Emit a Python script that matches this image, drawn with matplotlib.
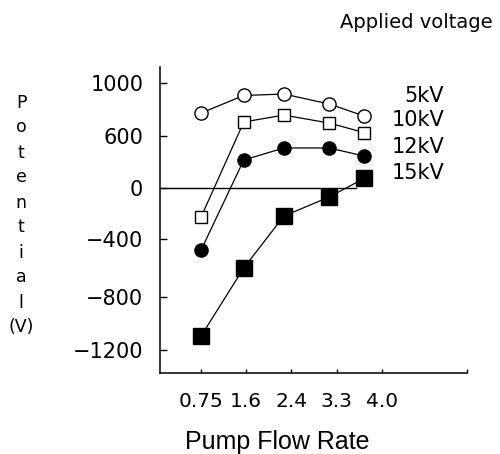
import matplotlib
matplotlib.use("Agg")
import matplotlib.pyplot as plt
from matplotlib.ticker import NullLocator
import numpy as np

# data
flow = [0.75, 1.6, 2.4, 3.3, 4.0]
flow_labels = ["0.75", "1.6", "2.4", "3.3", "4.0"]
v5 = [774, 906, 917, 842, 751]
v10 = [-227, 706, 758, 698, 626]
v12 = [-476, 323, 462, 462, 369]
v15 = [-1094, -600, -220, -71, 110]
series_labels = ["5kV", "10kV", "12kV", "15kV"]
y_ticks = [-1200, -800, -400, 0, 600, 1000]

# the y axis is uneven: tick marks sit about evenly apart, the values don't
scale_vals = [-1600, -1200, -800, -400, 0, 600, 1000, 1400]
scale_pos = [-30, 23, 76, 134, 185, 237, 290, 343]


def fwd(v):
    return np.interp(v, scale_vals, scale_pos)


def inv(p):
    return np.interp(p, scale_pos, scale_vals)


W, H = 500, 454
fig = plt.figure(figsize=(W / 100, H / 100), dpi=100)
ax = fig.add_axes([160 / W, 1 - 373 / H, 307 / W, 306 / H])
ax.set_yscale("function", functions=(fwd, inv))

common = dict(color="k", lw=0.9, mec="k", mew=1.0, clip_on=False, zorder=3)
ax.plot(flow, v5, marker="o", mfc="white", ms=9.5, **common)
ax.plot(flow, v10, marker="s", mfc="white", ms=8.5, **common)
ax.plot(flow, v12, marker="o", mfc="k", ms=9.5, **common)
ax.plot(flow, v15, marker="s", mfc="k", ms=11.5, **common)

ax.set_xlim(-0.07, 6.05)
ax.set_ylim(-1374, 1121)
ax.axhline(0, xmin=0, xmax=0.64, color="k", lw=1.0, zorder=2)

for s in ["top", "right"]:
    ax.spines[s].set_visible(False)
for s in ["left", "bottom"]:
    ax.spines[s].set_linewidth(1.1)

# tick labels are spaced evenly, the points are not
ax.set_xticks(np.arange(len(flow)) * 0.9 + 0.75, flow_labels)
ax.set_xticks([6.05], minor=True)
ax.set_yticks(y_ticks, [str(v).replace("-", "\u2212") for v in y_ticks])
ax.yaxis.set_minor_locator(NullLocator())
ax.tick_params(axis="y", direction="in", length=5, width=1, labelsize=15, pad=12)
ax.tick_params(axis="x", which="both", direction="in", length=3, width=1, labelsize=14.5, pad=14)

fig.text(416 / W, 1 - 28 / H, "Applied voltage", ha="center", va="baseline", fontsize=14)

label_y = [96, 120, 147, 173]
for lab, y in zip(series_labels, label_y):
    fig.text(444 / W, 1 - y / H, lab, ha="right", va="center", fontsize=15)

fig.text(21 / W, 1 - 215 / H, "P\no\nt\ne\nn\nt\ni\na\nl\n(V)", ha="center", va="center",
         multialignment="center", fontsize=12.5, linespacing=1.5)
fig.text(277 / W, 1 - 449 / H, "Pump Flow Rate", ha="center", va="baseline",
         family="Liberation Sans", fontsize=18)

fig.savefig("out.png", dpi=100)
